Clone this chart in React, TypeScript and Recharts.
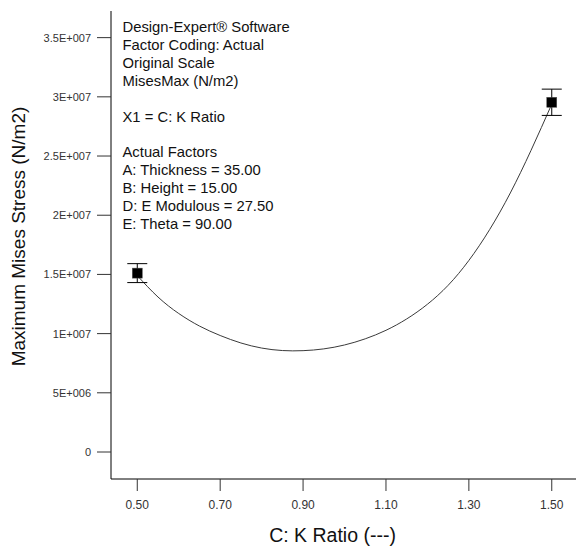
import React from "react";
import { ComposedChart, Line, Scatter, ErrorBar, XAxis, YAxis } from "recharts";

// Model prediction along K ratio (other factors held at the listed values)
const kRatioFit = [
  0.5, 0.55, 0.6, 0.65, 0.7, 0.75, 0.8, 0.85, 0.9, 0.95, 1.0,
  1.05, 1.1, 1.15, 1.2, 1.25, 1.3, 1.35, 1.4, 1.45, 1.5,
];
const stressFit = [
  14.9e6, 13.09e6, 11.7e6, 10.64e6, 9.84e6, 9.21e6, 8.78e6, 8.57e6, 8.56e6, 8.71e6, 9.04e6,
  9.56e6, 10.28e6, 11.24e6, 12.48e6, 14.08e6, 16.18e6, 18.78e6, 21.88e6, 25.48e6, 29.38e6,
];

// Design points with LSD bars
const kRatioObs = [0.5, 1.5];
const stressObs = [15.11e6, 29.54e6];
const stressErr = [0.8e6, 1.11e6];

const xTicks = [0.5, 0.7, 0.9, 1.1, 1.3, 1.5];
const yTicks = [0, 5e6, 1e7, 1.5e7, 2e7, 2.5e7, 3e7, 3.5e7];
const yTickLabels = ["0", "5E+006", "1E+007", "1.5E+007", "2E+007", "2.5E+007", "3E+007", "3.5E+007"];

const notes = [
  "Design-Expert\u00ae Software",
  "Factor Coding: Actual",
  "Original Scale",
  "MisesMax (N/m2)",
  "",
  "X1 = C: K Ratio",
  "",
  "Actual Factors",
  "A: Thickness = 35.00",
  "B: Height = 15.00",
  "D: E Modulous = 27.50",
  "E: Theta = 90.00",
];

const X_DOMAIN: [number, number] = [0.4366, 1.5633];
const Y_DOMAIN: [number, number] = [-2.28e6, 37.25e6];
const FONT = "'Liberation Sans', Arial, sans-serif";

const fitData = kRatioFit.map((k, i) => ({ k, stress: stressFit[i] }));
const obsData = kRatioObs.map((k, i) => ({ k, stress: stressObs[i], err: stressErr[i] }));

const SquareDot = (props: { cx?: number; cy?: number }) => {
  const { cx = 0, cy = 0 } = props;
  return <rect x={cx - 5} y={cy - 5} width={10} height={10} fill="#000" stroke="#555" strokeWidth={0.5} />;
};

export default function App() {
  return (
    <div
      style={{
        position: "absolute",
        left: 0,
        top: 0,
        width: 576,
        height: 546,
        overflow: "hidden",
        background: "#fff",
        fontFamily: FONT,
      }}
    >
      <ComposedChart
        width={582}
        height={546}
        margin={{ top: 11, right: 4, left: 0, bottom: 7 }}
        style={{ fontFamily: FONT }}
      >
        <XAxis
          xAxisId="top"
          orientation="top"
          type="number"
          domain={X_DOMAIN}
          height={0}
          tick={false}
          tickLine={false}
          axisLine={{ stroke: "#000", strokeWidth: 1 }}
        />
        <XAxis
          dataKey="k"
          type="number"
          domain={X_DOMAIN}
          ticks={xTicks}
          interval={0}
          allowDataOverflow
          height={60}
          tickSize={12}
          tickMargin={9}
          tickFormatter={(v: number) => v.toFixed(2)}
          tick={{ fontSize: 12, fill: "#333" }}
          tickLine={{ stroke: "#333" }}
          axisLine={{ stroke: "#000" }}
          label={{
            content: () => (
              <text x={332.5} y={541.5} textAnchor="middle" fontSize={19.5} fill="#111" fontFamily={FONT}>
                C: K Ratio (---)
              </text>
            ),
          }}
        />
        <YAxis
          type="number"
          domain={Y_DOMAIN}
          ticks={yTicks}
          interval={0}
          allowDataOverflow
          width={111}
          tickSize={14}
          tickMargin={6}
          tickFormatter={(v: number) => yTickLabels[yTicks.indexOf(v)] ?? ""}
          tick={{ fontSize: 11, fill: "#333" }}
          tickLine={{ stroke: "#333" }}
          axisLine={{ stroke: "#000" }}
          label={{
            content: () => (
              <text
                transform="translate(24.5,236.5) rotate(-90)"
                textAnchor="middle"
                fontSize={19}
                fill="#111"
                fontFamily={FONT}
              >
                Maximum Mises Stress (N/m2)
              </text>
            ),
          }}
        />
        <Line
          data={fitData}
          dataKey="stress"
          type="natural"
          stroke="#3a3a3a"
          strokeWidth={1}
          dot={false}
          activeDot={false}
          isAnimationActive={false}
        />
        <Scatter data={obsData} dataKey="stress" shape={SquareDot} isAnimationActive={false}>
          <ErrorBar dataKey="err" direction="y" width={10} stroke="#000" strokeWidth={1} />
        </Scatter>
      </ComposedChart>
      <div
        style={{
          position: "absolute",
          left: 122.5,
          top: 19,
          fontSize: 14.8,
          lineHeight: "17.9px",
          color: "#111",
          whiteSpace: "pre",
        }}
      >
        {notes.map((line, i) => (
          <div key={i}>{line || "\u00a0"}</div>
        ))}
      </div>
    </div>
  );
}
